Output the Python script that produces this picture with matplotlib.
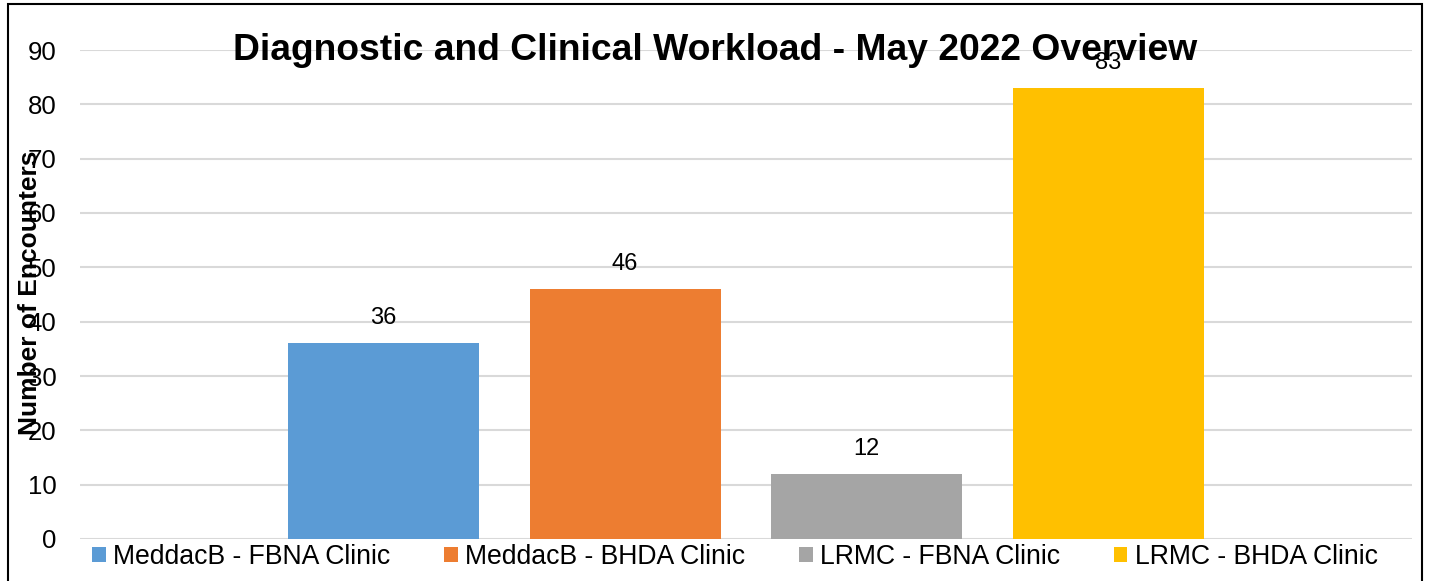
import matplotlib
matplotlib.use("Agg")
import matplotlib.pyplot as plt
from matplotlib.patches import Patch, Rectangle
import numpy as np

plt.rcParams['font.family'] = ['Liberation Sans', 'DejaVu Sans']

series = ["MeddacB - FBNA Clinic", "MeddacB - BHDA Clinic", "LRMC - FBNA Clinic", "LRMC - BHDA Clinic"]
values = [36, 46, 12, 83]
colors = ["#5B9BD5", "#ED7D31", "#A5A5A5", "#FFC000"]
yticks = [0, 10, 20, 30, 40, 50, 60, 70, 80, 90]
title = "Diagnostic and Clinical Workload - May 2022 Overview"
ylabel = "Number of Encounters"

W, H = 1429, 581
fig = plt.figure(figsize=(W / 100, H / 100), dpi=100)
ax = fig.add_axes([80 / W, 1 - 539 / H, (1412 - 80) / W, (539 - 50) / H])

pos = np.arange(1, len(values) + 1)
bars = ax.bar(pos, values, width=191 / 241.5, color=colors, zorder=3)
for x, v in zip(pos, values):
    ax.annotate(str(v), (x, v), xytext=(0, 18), textcoords="offset points",
                ha="center", va="center", fontsize=17, zorder=5)

ax.set_xlim(1 - (383.5 - 80) / 241.5, 1 + (1412 - 383.5) / 241.5)
ax.set_ylim(0, 90)
ax.set_yticks(yticks)
ax.set_xticks([])
ax.tick_params(axis="y", length=0, pad=17, labelsize=18.5)
ax.grid(axis="y", color="#D9D9D9", lw=1.5, zorder=0)
for s in ax.spines.values():
    s.set_visible(False)

fig.text(30 / W, 1 - 293 / H, ylabel, rotation=90, ha="center", va="center",
         fontsize=19, fontweight="bold")
fig.text(715 / W, 1 - 50 / H, title, ha="center", va="center",
         fontsize=26.8, fontweight="bold", zorder=10)

fs = 19.2
handles = [Patch(facecolor=c, edgecolor="none") for c in colors]
fig.legend(handles, series, loc="center left", bbox_to_anchor=(92 / W, 1 - 557 / H),
           ncol=4, frameon=False, fontsize=fs, borderpad=0, borderaxespad=0,
           handlelength=0.52, handleheight=0.52, handletextpad=0.27, columnspacing=2.01)

fig.patches.append(Rectangle((8 / W, -0.05), (1422 - 8) / W, 1.05 - 4 / H,
                             transform=fig.transFigure, fill=False, edgecolor="black",
                             lw=1.5, zorder=20))

fig.savefig("out.png", dpi=100)
